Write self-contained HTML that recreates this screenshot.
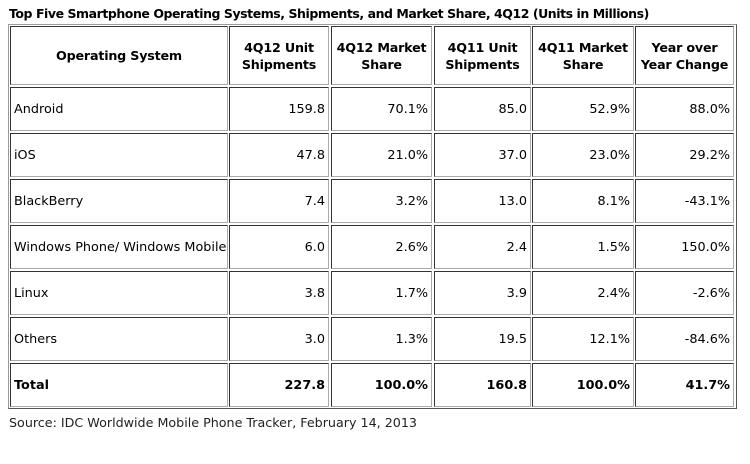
<!DOCTYPE html>
<html><head><meta charset="utf-8"><style>
body{margin:0;width:750px;height:464px;background:#fff;position:relative;font-family:"DejaVu Sans",Verdana,sans-serif;color:#000;overflow:hidden}
.t{position:absolute;left:9px;top:6px;font-size:12.5px;font-weight:bold;letter-spacing:-0.45px}
.outer{position:absolute;left:8px;top:24px;width:727px;height:383px;border:1px solid #999;border-right-color:#555;border-bottom-color:#555}
.c{position:absolute;box-sizing:border-box;border:1px solid #333;border-right-color:#aaa;border-bottom-color:#aaa;font-size:12.8px;display:flex;align-items:center;padding:0 3px;white-space:nowrap}
.h{font-weight:bold;justify-content:center;text-align:center;line-height:17px;font-size:12.7px;letter-spacing:-0.2px}
.n{justify-content:flex-end}
.b{font-weight:bold}
.src{position:absolute;left:9px;top:415px;font-size:12.7px;color:#222}
</style></head><body>
<div class="t">Top Five Smartphone Operating Systems, Shipments, and Market Share, 4Q12 (Units in Millions)</div>
<div class="outer"></div>
<div id="tbl"></div>
<div class="src">Source: IDC Worldwide Mobile Phone Tracker, February 14, 2013</div>
<script>
const headers=["Operating System","4Q12 Unit<br>Shipments","4Q12 Market<br>Share","4Q11 Unit<br>Shipments","4Q11 Market<br>Share","Year over<br>Year Change"];
const osNames=["Android","iOS","BlackBerry","Windows Phone/ Windows Mobile","Linux","Others","Total"];
const ship4Q12=["159.8","47.8","7.4","6.0","3.8","3.0","227.8"];
const share4Q12=["70.1%","21.0%","3.2%","2.6%","1.7%","1.3%","100.0%"];
const ship4Q11=["85.0","37.0","13.0","2.4","3.9","19.5","160.8"];
const share4Q11=["52.9%","23.0%","8.1%","1.5%","2.4%","12.1%","100.0%"];
const yoy=["88.0%","29.2%","-43.1%","150.0%","-2.6%","-84.6%","41.7%"];
const cols=[[10,227],[229,328],[331,431],[434,530],[532,633],[635,733]];
const rows=[[26,84],[87,130],[133,176],[179,222],[225,268],[271,314],[317,360],[363,406]];
const tbl=document.getElementById('tbl');
function cell(ci,ri,html,cls,name){
  const d=document.createElement('div');
  d.className='c '+cls;
  d.style.left=cols[ci][0]+'px';d.style.width=(cols[ci][1]-cols[ci][0]+1)+'px';
  d.style.top=rows[ri][0]+'px';d.style.height=(rows[ri][1]-rows[ri][0]+1)+'px';
  d.innerHTML=html;
  
  
  tbl.appendChild(d);
}
headers.forEach((h,i)=>cell(i,0,h,'h','header-cell'));
const data=[osNames,ship4Q12,share4Q12,ship4Q11,share4Q11,yoy];
osNames.forEach((n,r)=>{
  const bold=r===osNames.length-1?' b':'';
  data.forEach((arr,c)=>cell(c,r+1,arr[r],(c===0?'':'n')+bold,c===0?'os-name-cell':'value-cell'));
});
</script>
</body></html>
